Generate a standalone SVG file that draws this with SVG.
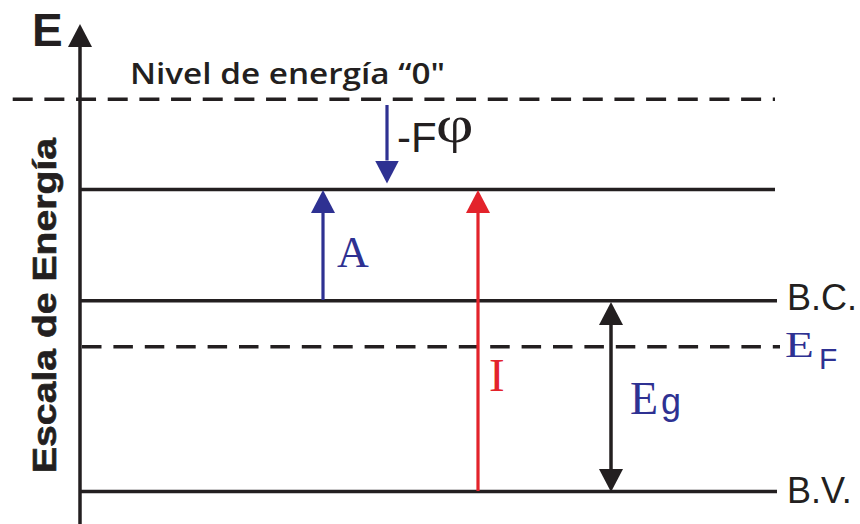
<svg xmlns="http://www.w3.org/2000/svg" width="860" height="524" viewBox="0 0 860 524">
<defs>
<style>
.lvl{stroke:#231f20;stroke-width:3.5;fill:none}
.dash1{stroke-dasharray:20 11.67}
.dash2{stroke-dasharray:19.5 11.9}
.blk{stroke:#231f20;stroke-width:3.5;fill:none}
.blu{stroke:#2e3192;stroke-width:3.2;fill:none}
.red{stroke:#e3232b;stroke-width:3.2;fill:none}
.sans{font-family:"Liberation Sans",Arial,sans-serif}
.serif{font-family:"Liberation Serif","Times New Roman",serif}
.tblue{fill:#2e3192}
.tblack{fill:#231f20}
</style>
<marker id="ahK" markerUnits="userSpaceOnUse" markerWidth="24" markerHeight="24" refX="0" refY="12" orient="auto-start-reverse" viewBox="0 0 24 24"><path d="M0,0 L23,12 L0,24 z" fill="#231f20"/></marker>
<marker id="ahB" markerUnits="userSpaceOnUse" markerWidth="24" markerHeight="24" refX="0" refY="12" orient="auto" viewBox="0 0 24 24"><path d="M0,0 L23,12 L0,24 z" fill="#2e3192"/></marker>
<marker id="ahR" markerUnits="userSpaceOnUse" markerWidth="24" markerHeight="24" refX="0" refY="12" orient="auto" viewBox="0 0 24 24"><path d="M0,0 L23,12 L0,24 z" fill="#e3232b"/></marker>
</defs>
<rect width="860" height="524" fill="#ffffff"/>

<g id="axis">
<line class="blk" x1="80" y1="524" x2="80" y2="47" marker-end="url(#ahK)"/>
<text class="sans tblack" x="32" y="46" font-size="46" font-weight="bold">E</text>
<text class="sans tblack" font-size="33" font-weight="bold" stroke="#231f20" stroke-width="0.6" transform="translate(56,473) rotate(-90)" textLength="335" lengthAdjust="spacingAndGlyphs">Escala de Energía</text>
</g>

<g id="level-zero">
<line class="lvl dash1" x1="12.7" y1="99.3" x2="775" y2="99.3"/>
<text x="130" y="83.5" font-family="'Open Sans','Liberation Sans',sans-serif" font-weight="600" font-size="29.5" fill="#231f20" textLength="315" lengthAdjust="spacingAndGlyphs">Nivel de energía “0"</text>
</g>

<g id="level-vacuum">
<line class="lvl" x1="80" y1="189.5" x2="775" y2="189.5"/>
</g>

<g id="level-bc">
<line class="lvl" x1="80" y1="300.8" x2="777" y2="300.8"/>
<text class="sans tblack" x="787" y="309.5" font-size="36">B.C.</text>
</g>

<g id="level-ef">
<line class="lvl dash2" x1="82" y1="346.7" x2="780" y2="346.7"/>
<text class="serif tblue" font-size="45" transform="translate(785,357) scale(1.05,0.8)">E</text>
<text class="sans tblue" x="819" y="369" font-size="30">F</text>
</g>

<g id="level-bv">
<line class="lvl" x1="80" y1="491.5" x2="777" y2="491.5"/>
<text class="sans tblack" x="787" y="502.5" font-size="36">B.V.</text>
</g>

<g id="connectors">
<line class="blu" x1="387" y1="105" x2="387" y2="160.5" marker-end="url(#ahB)"/>
<line class="blu" x1="323" y1="300" x2="323" y2="213" marker-end="url(#ahB)"/>
<line class="red" x1="478" y1="491" x2="478" y2="213" marker-end="url(#ahR)"/>
<line class="blk" x1="611" y1="325" x2="611" y2="469" marker-start="url(#ahK)" marker-end="url(#ahK)"/>
</g>

<g id="labels">
<text class="sans tblack" x="397" y="152" font-size="42">-F</text>
<text class="serif tblack" font-size="52" transform="translate(436,142) scale(1.25,1)">φ</text>
<text class="serif tblue" x="337" y="267" font-size="44">A</text>
<text class="serif" x="489" y="391" font-size="47" fill="#e3232b">I</text>
<text class="serif tblue" x="630" y="414" font-size="46">E</text>
<text class="sans tblue" x="661" y="414" font-size="36">g</text>
</g>
</svg>
